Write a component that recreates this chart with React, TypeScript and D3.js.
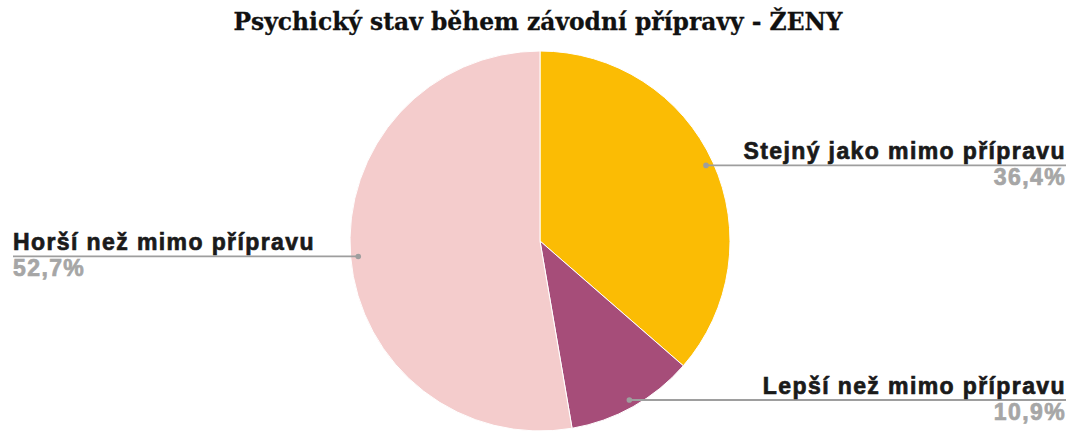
import React from "react";
import * as d3 from "d3";

const categories = ["Stejný jako mimo přípravu", "Lepší než mimo přípravu", "Horší než mimo přípravu"];
const values = [36.4, 10.9, 52.7];
const valueLabels = ["36,4%", "10,9%", "52,7%"];
const colors = ["#FBBC04", "#A64D79", "#F4CCCC"];
const title = "Psychický stav během závodní přípravy - ŽENY";

export default function App() {
  const W = 1073, H = 432;
  const cx = 540, cy = 241, R = 190;
  const pie = d3.pie<number>().sort(null).value((d) => d);
  const arcs = pie(values);
  const arcGen = d3.arc<d3.PieArcDatum<number>>().innerRadius(0).outerRadius(R);
  const leftX = 13, rightX = 1066;

  return (
    <svg width={W} height={H} style={{ position: "absolute", left: 0, top: 0, background: "#fff" }}>
      <text x={538} y={30} textAnchor="middle" fontFamily="'DejaVu Serif', serif" fontWeight="bold" fontSize={23.4} fill="#111" stroke="#111" strokeWidth={0.3}>
        {title}
      </text>
      <g transform={`translate(${cx},${cy})`}>
        {arcs.map((a, i) => (
          <path key={i} d={arcGen(a) || ""} fill={colors[i]} stroke="#fff" strokeWidth={1} />
        ))}
      </g>
      {arcs.map((a, i) => {
        const mid = (a.startAngle + a.endAngle) / 2;
        const r = R * 0.96;
        const dx = cx + r * Math.sin(mid);
        const dy = cy - r * Math.cos(mid);
        const right = Math.sin(mid) > 0;
        const endX = right ? rightX : leftX;
        const anchor = right ? "end" : "start";
        return (
          <g key={"l" + i}>
            <line x1={dx} y1={dy} x2={endX} y2={dy} stroke="#9e9e9e" strokeWidth={1.8} />
            <circle cx={dx} cy={dy} r={2.8} fill="#9e9e9e" />
            <text x={endX} y={dy - 6.5} textAnchor={anchor} fontFamily="'Liberation Sans', Arial, sans-serif" fontWeight="bold" fontSize={23} letterSpacing={1.4} fill="#1a1a1a" stroke="#1a1a1a" strokeWidth={0.7}>
              {categories[i]}
            </text>
            <text x={endX} y={dy + 20} textAnchor={anchor} fontFamily="'Liberation Sans', Arial, sans-serif" fontWeight="bold" fontSize={23} letterSpacing={1.4} fill="#a6a6a6" stroke="#a6a6a6" strokeWidth={0.7}>
              {valueLabels[i]}
            </text>
          </g>
        );
      })}
    </svg>
  );
}
